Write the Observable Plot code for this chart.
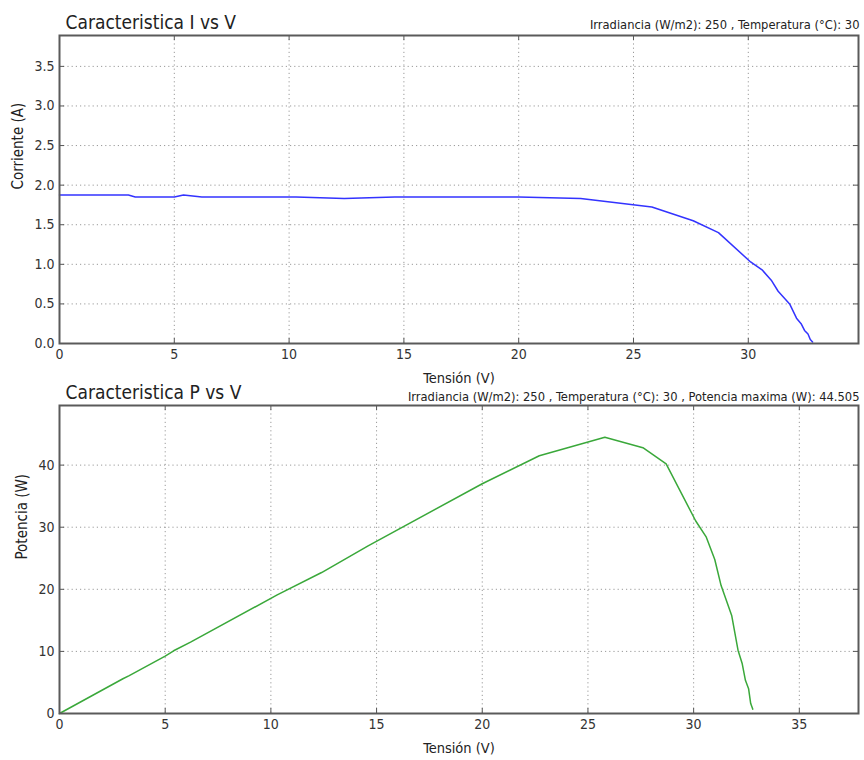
<!DOCTYPE html>
<html><head><meta charset="utf-8">
<script src="https://cdn.jsdelivr.net/npm/d3@7"></script>
<script src="https://cdn.jsdelivr.net/npm/@observablehq/plot@0.6"></script>
<style>
body{margin:0;background:#fff;}
#wrap{position:relative;width:864px;height:760px;overflow:hidden;}
#wrap svg{position:absolute;left:0;}
</style></head><body><div id="wrap"></div>
<script>
// Data
const voltage = [0, 3.0, 3.3, 5.0, 5.4, 6.2, 10.3, 12.4, 14.6, 20.0, 22.7, 25.8, 27.6, 28.7, 30.1, 30.6, 31.0, 31.3, 31.8, 32.1, 32.3, 32.45, 32.6, 32.7, 32.8];
const current = [1.875, 1.875, 1.85, 1.85, 1.875, 1.85, 1.85, 1.83, 1.85, 1.85, 1.83, 1.725, 1.55, 1.40, 1.03, 0.93, 0.80, 0.66, 0.50, 0.32, 0.25, 0.165, 0.12, 0.05, 0.02];
const power   = [0, 5.6, 6.1, 9.25, 10.1, 11.5, 19.1, 22.7, 27.0, 37.0, 41.5, 44.5, 42.8, 40.2, 31.0, 28.4, 24.8, 20.6, 15.8, 10.2, 8.0, 5.35, 4.0, 1.6, 0.7];

const xTicksIV = [0, 5, 10, 15, 20, 25, 30];
const yTicksIV = [0, 0.5, 1.0, 1.5, 2.0, 2.5, 3.0, 3.5];
const xTicksPV = [0, 5, 10, 15, 20, 25, 30, 35];
const yTicksPV = [0, 10, 20, 30, 40];

const titleIV = "Caracteristica I vs V";
const subtitleIV = "Irradiancia (W/m2): 250 , Temperatura (°C): 30";
const titlePV = "Caracteristica P vs V";
const subtitlePV = "Irradiancia (W/m2): 250 , Temperatura (°C): 30 , Potencia maxima (W): 44.505";
const xLabel = "Tensión (V)";
const yLabelIV = "Corriente (A)";
const yLabelPV = "Potencia (W)";

const rows = voltage.map((v, k) => ({v, i: current[k], p: power[k]}));

const FONT = "'DejaVu Sans Condensed', 'DejaVu Sans', sans-serif";
const W = 864, H = 390, MT = 35, MB = 47, ML = 59, MR = 6;
const FW = W - ML - MR, FH = H - MT - MB;

function chart({xmax, ymax, xticks, yticks, yfmt, key, color, title, subtitle, ylabel, xdy, ydx, subdy}) {
  return Plot.plot({
    width: W, height: H,
    marginTop: MT, marginBottom: MB, marginLeft: ML, marginRight: MR,
    style: {background: "transparent", overflow: "visible", fontFamily: FONT, fontSize: "14px", color: "#333"},
    x: {domain: [0, xmax], ticks: xticks, label: null, tickSize: 0, tickPadding: 6, tickFormat: d => String(d)},
    y: {domain: [0, ymax], ticks: yticks, label: null, tickSize: 0, tickPadding: 5, tickFormat: yfmt},
    marks: [
      Plot.gridX(xticks, {stroke: "#9a9a9a", strokeOpacity: 1, strokeDasharray: "1.2,3"}),
      Plot.gridY(yticks, {stroke: "#9a9a9a", strokeOpacity: 1, strokeDasharray: "1.2,3"}),
      Plot.tickX(xticks, {insetTop: FH - 5, stroke: "#555"}),
      Plot.tickX(xticks, {insetBottom: FH - 5, stroke: "#555"}),
      Plot.tickY(yticks, {insetRight: FW - 5, stroke: "#555"}),
      Plot.tickY(yticks, {insetLeft: FW - 5, stroke: "#555"}),
      Plot.line(rows, {x: "v", y: key, stroke: color, strokeWidth: 1.5}),
      Plot.frame({stroke: "#5a5a5a", strokeWidth: 2}),
      Plot.text([title], {frameAnchor: "top-left", textAnchor: "start", lineAnchor: "bottom", dx: 6, dy: -7, fontSize: 19, fill: "#222"}),
      Plot.text([subtitle], {frameAnchor: "top-right", textAnchor: "end", lineAnchor: "bottom", dx: 1, dy: subdy, fontSize: 12.8, fill: "#222"}),
      Plot.text([xLabel], {frameAnchor: "bottom", lineAnchor: "middle", dy: xdy, fontSize: 14.5, fill: "#222"}),
      Plot.text([ylabel], {frameAnchor: "left", rotate: -90, dx: ydx, fontSize: 15, fill: "#222"})
    ]
  });
}

const chartIV = chart({xmax: 34.8, ymax: 3.89, xticks: xTicksIV, yticks: yTicksIV, yfmt: d3.format(".1f"),
  key: "i", color: "#3333ff", title: titleIV, subtitle: subtitleIV, ylabel: yLabelIV, xdy: 35, ydx: -41, subdy: -7});
const chartPV = chart({xmax: 37.8, ymax: 49.6, xticks: xTicksPV, yticks: yTicksPV, yfmt: d => String(d),
  key: "p", color: "#3aa83a", title: titlePV, subtitle: subtitlePV, ylabel: yLabelPV, xdy: 35, ydx: -37, subdy: -5});

chartIV.style.top = "0px";
chartPV.style.top = "370px";
const wrap = document.getElementById("wrap");
wrap.appendChild(chartIV);
wrap.appendChild(chartPV);
</script></body></html>
